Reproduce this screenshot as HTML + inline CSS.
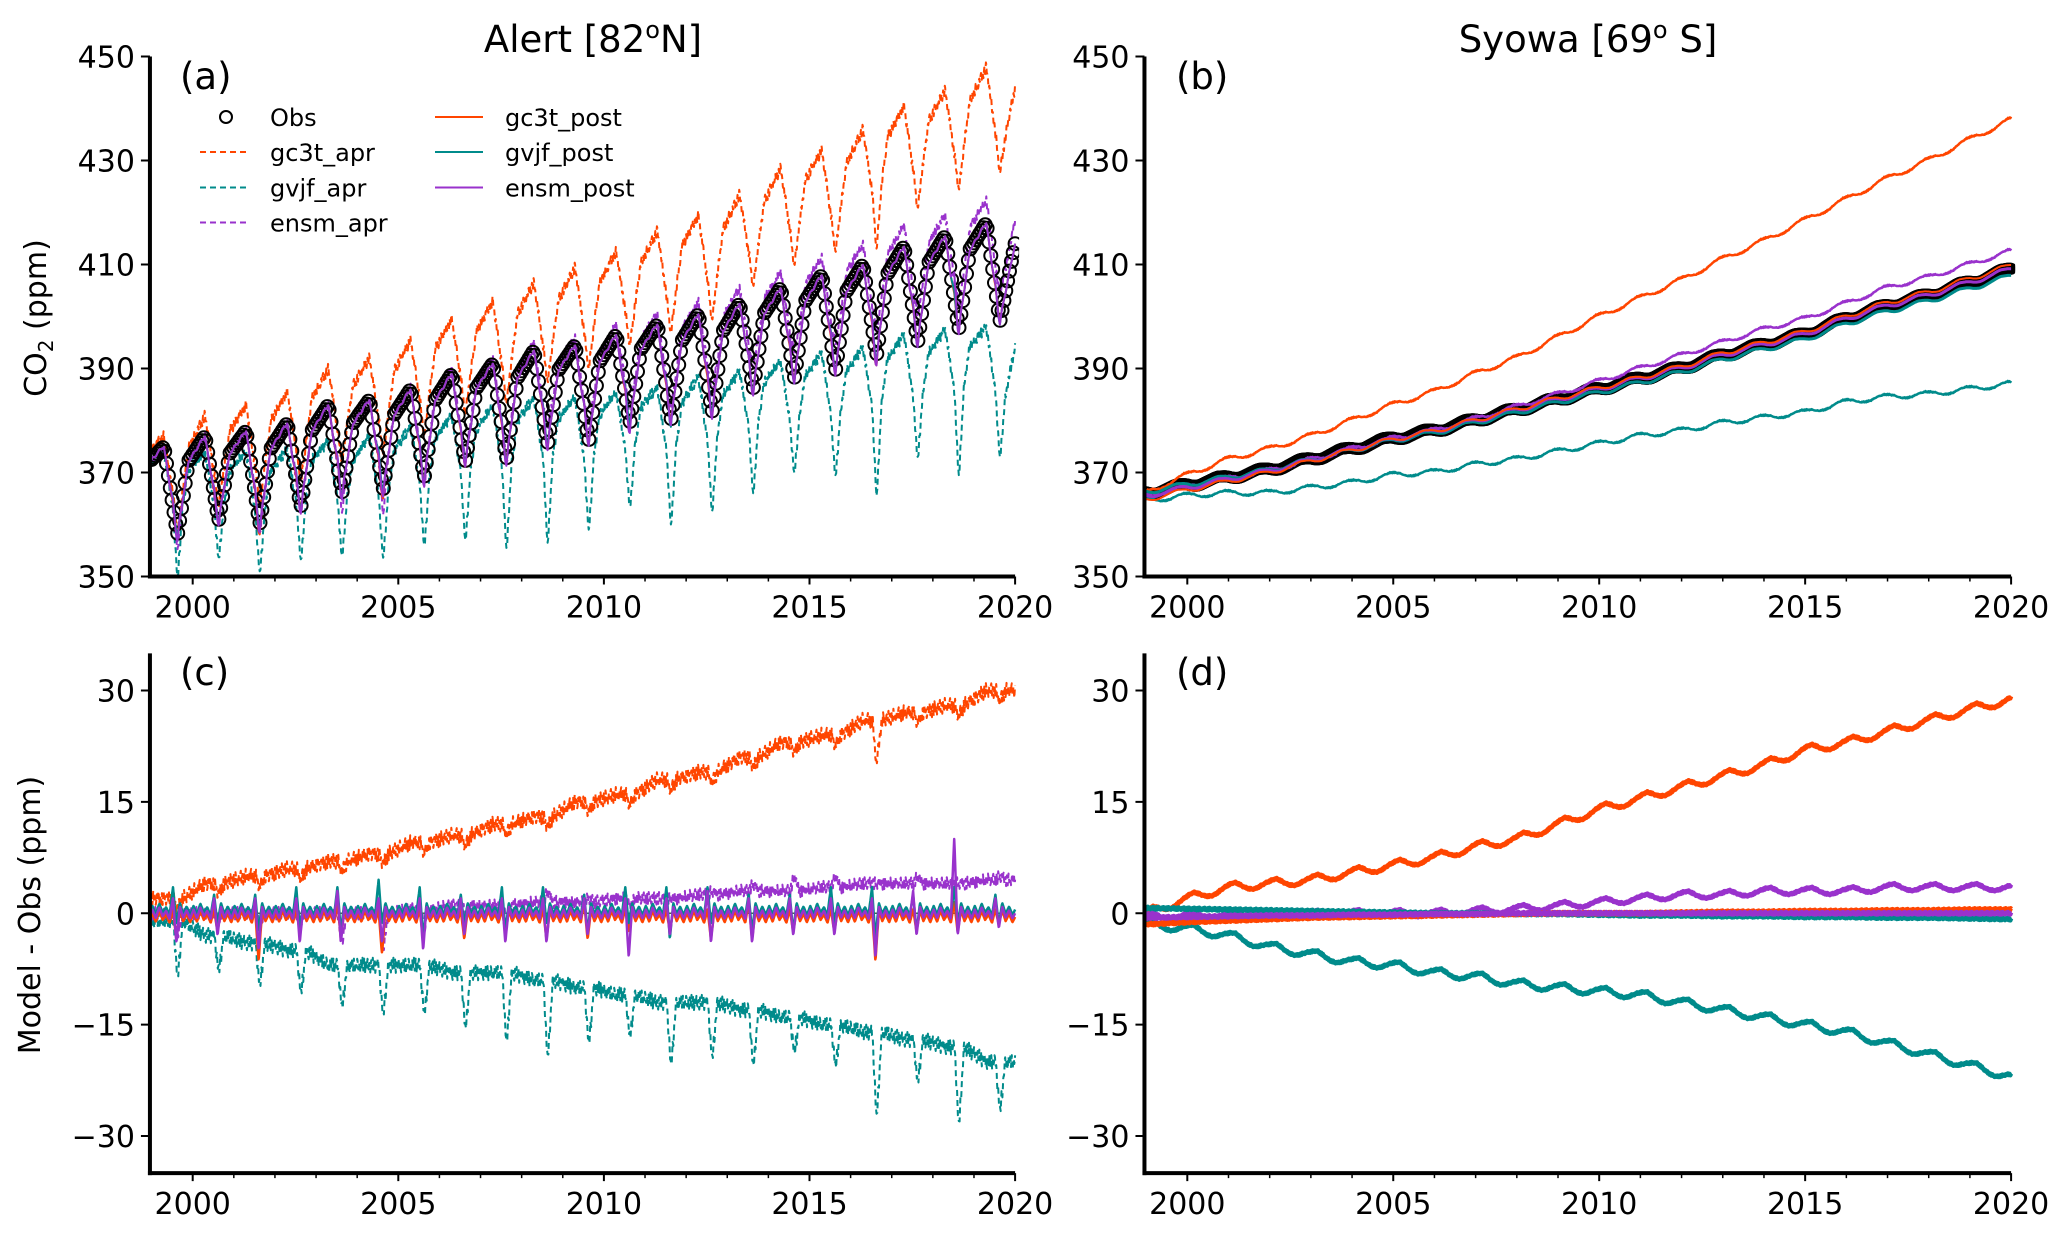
<!DOCTYPE html>
<html><head><meta charset="utf-8"><style>
html,body{margin:0;padding:0;background:#fff;}
svg{display:block;font-family:"DejaVu Sans","Liberation Sans",sans-serif;}
</style></head><body>
<svg id="fig" width="2067" height="1233" viewBox="0 0 2067 1233" xmlns="http://www.w3.org/2000/svg">
<text x="593" y="52" font-size="37" text-anchor="middle">Alert [82<tspan font-size="24" dy="-14">o</tspan><tspan dy="14">N]</tspan></text>
<text x="1588" y="52" font-size="37" text-anchor="middle">Syowa [69<tspan font-size="24" dy="-14">o</tspan><tspan dy="14"> S]</tspan></text>
<text transform="translate(46,318) rotate(-90)" font-size="30" text-anchor="middle">CO<tspan font-size="20" dy="7">2</tspan><tspan dy="-7"> (ppm)</tspan></text>
<text transform="translate(40,915) rotate(-90)" font-size="30" text-anchor="middle">Model - Obs (ppm)</text>
<g id="layer"></g>
</svg>
<script>
// ---------- data ----------
const years = [1999,2000,2001,2002,2003,2004,2005,2006,2007,2008,2009,2010,2011,2012,2013,2014,2015,2016,2017,2018,2019];
const alertObsPeak   = [375,377,378,379.5,383,384,386,389,391,393.5,394.5,396.5,398.5,400.5,402.5,405.5,408,410,413.5,415.5,418];
const alertObsTrough = [358,360.7,360,363.3,366,366.6,369,372,372.5,375.5,376,379.5,380,381.5,386,388,389.5,392.5,395,397.5,399];
const alertObsStart = 372.5;
const alertObsEnd = 414;
const gc3tAprBase = [2,4,5,6,7,8,9.5,10.5,12,13,15,16,18,19,21,23,24,26,27,28,30];
const gc3tAprDip  = [0.5,2.5,3.5,4.5,5.5,6.5,8,9,10.5,11.5,13.5,14.5,16.5,17.5,19.5,21.5,22.5,20,25.5,26.5,28.5];
const gvjfAprBase = [-1,-3,-4,-5,-7,-7,-7,-8,-8,-9,-10,-11,-12,-12,-13,-14,-15,-16,-17,-18,-20];
const gvjfAprDip  = [-9,-8,-10,-11,-13,-14,-14,-16,-18,-20,-18,-17,-21,-20,-21,-19,-21,-28,-23,-29,-27];
const ensmAprBase = [0,0,0,0,0,0,0.5,1,1,1.5,1.5,2,2,2.5,3,3,3.5,4,4,4,4.5];
const ensmAprDip  = [-3,-1,-2,-1,-4,-5,-2,0,-1,3,2,1,2,3,4,5,5,4,5,4,5];
const gc3tPostDip  = [-3,-2,-6,-2,-3,-5,-3,-3,-2,-3,-3,-2,-2,-3,-3,-2,-2,-6,-2,-2,-1];
const gc3tPostBump = [1,1,1,1,2,1,1,1,1,1,2,1,1,1,2,1,1,1,1,2,1];
const gvjfPostDip  = [-2,-2,-3,-3,-3,-2,-4,-2,-3,-2,-3,-2,-4,-2,-3,-3,-2,-4,-3,-2,-2];
const gvjfPostBump = [3,2,2,3,3,4,3,2,3,3,2,3,3,3,2,2,3,3,2,3,2];
const ensmPostDip  = [-4,-3,-5,-4,-4,-4,-5,-3,-4,-4,-3,-6,-3,-4,-4,-3,-3,-6,-3,-3,-2];
const ensmPostBump = [2,2,2,2,3,2,2,2,2,2,2,2,2,3,2,2,2,2,3,10,2];
const postWiggle = [0.6,-0.8,1.0,-0.5,0.4,-1.0,0.8,-0.6,1.1,-0.7,0.5,-0.9];

const syYears = [1999,2000,2001,2002,2003,2004,2005,2006,2007,2008,2009,2010,2011,2012,2013,2014,2015,2016,2017,2018,2019,2020];
const syObs = [366,367.5,369,370.5,372.5,374.5,376.5,378,380,382,384,386,388,390,392.5,394.5,396.5,399.5,402,404,406.5,409];
const syObsSeason = [0.2,-0.1,-0.3,-0.4,-0.3,-0.1,0.1,0.3,0.5,0.6,0.5,0.4];
const syGc3tAprDiff = [0,2,3.5,4,4.5,5.5,6.5,7.5,9,10,12,14,15.5,17,18.5,20,22,23,24.5,26,27.5,28.8];
const syGvjfAprDiff = [-1.5,-2,-3,-4.5,-5.5,-6.5,-7,-8,-8.5,-9.5,-10,-10.5,-11,-12,-13,-14,-15,-16,-17.5,-19,-20.5,-22];
const syEnsmAprDiff = [-0.5,-0.3,-0.2,-0.2,-0.1,0,0,0,0.3,0.6,1,1.5,2,2.5,2.5,3,3,3,3.5,3.5,3.5,3.5];
const syGc3tPostDiff = [-1.5,-1.2,-1,-0.8,-0.6,-0.5,-0.4,-0.3,-0.2,-0.1,0,0,0,0.1,0.2,0.2,0.3,0.3,0.4,0.4,0.5,0.5];
const syGvjfPostDiff = [0.7,0.6,0.5,0.4,0.3,0.2,0.1,0,0,-0.1,-0.1,-0.2,-0.3,-0.3,-0.4,-0.4,-0.5,-0.5,-0.6,-0.6,-0.7,-0.8];
const syEnsmPostDiff = [-0.6,-0.5,-0.4,-0.3,-0.3,-0.2,-0.2,-0.1,-0.1,0,0,0,0,0,0,0,0,0,0,0,0,0];
const diffSeason = [0.6,0.9,1.0,0.6,0.0,-0.5,-0.8,-1.0,-0.9,-0.5,-0.1,0.3];
const seasonAmp = {gc3t:0.55, gvjf:0.55, ensm:0.45};

const yTicksTop = [350,370,390,410,430,450];
const yTicksBot = [30,15,0,-15,-30];
const xTicksMajor = [2000,2005,2010,2015,2020];

// ---------- layout ----------
const NS = "http://www.w3.org/2000/svg";
const layer = document.getElementById('layer');
const C = {gc3t:'#ff4500', gvjf:'#008b8b', ensm:'#9932cc'};
function mk(tag, attrs, parent){const e=document.createElementNS(NS,tag);for(const k in attrs)e.setAttribute(k,attrs[k]);(parent||layer).appendChild(e);return e;}

function makeAxes(name, x2000, pxYr, y0px, v0, y1px, v1, vmin, vmax, yTicks, label, lx, ly){
  const xS = t => x2000 + (t-2000)*pxYr;
  const yS = v => y0px + (v-v0)*(y1px-y0px)/(v1-v0);
  const g = mk('g',{});
  
  
  const xl = xS(1998.96), xr = xS(2020), yt = yS(vmax), yb = yS(vmin);
  const clipId = 'clip-'+name;
  const cp = mk('clipPath',{id:clipId},g);
  mk('rect',{x:xl,y:yt-2,width:xr-xl+4,height:yb-yt+2},cp);
  const plot = mk('g',{'clip-path':'url(#'+clipId+')'},g);
  
  
  const axes = mk('g',{},g);
  const ls = mk('line',{x1:xl,y1:yt,x2:xl,y2:yb+2,stroke:'#000','stroke-width':4},axes);
  
  
  const bs = mk('line',{x1:xl-2,y1:yb,x2:xr,y2:yb,stroke:'#000','stroke-width':4},axes);
  
  
  for(let yr=2000; yr<=2020; yr++){
    const maj = xTicksMajor.includes(yr);
    mk('line',{x1:xS(yr),y1:yb,x2:xS(yr),y2:yb+(maj?8:5),stroke:'#000','stroke-width':maj?2:1.5},axes);
  }
  xTicksMajor.forEach(yr=>{
    const t = mk('text',{x:xS(yr),y:yb+41,'font-size':30,'text-anchor':'middle'},axes);
    t.textContent = yr;
    
    
  });
  yTicks.forEach(v=>{
    mk('line',{x1:xl-9,y1:yS(v),x2:xl,y2:yS(v),stroke:'#000','stroke-width':2},axes);
    const t = mk('text',{x:xl-15,y:yS(v)+11,'font-size':30,'text-anchor':'end'},axes);
    t.textContent = v<0 ? '\u2212'+Math.abs(v) : String(v);
    
    
  });
  const pl = mk('text',{x:lx,y:ly,'font-size':37},g);
  pl.textContent = label;
  
  
  return {xS,yS,plot,xl,xr};
}

function interp(keys, t){
  if(t<=keys[0][0]) return keys[0][1];
  for(let i=1;i<keys.length;i++){
    if(t<=keys[i][0]){const a=keys[i-1],b=keys[i];return a[1]+(b[1]-a[1])*(t-a[0])/(b[0]-a[0]);}
  }
  return keys[keys.length-1][1];
}
function pathFrom(ax, fn, step){
  let d='';
  for(let t=1999.0; t<=2020.0001; t+=step){
    d += (d?'L':'M') + ax.xS(t).toFixed(1)+','+ax.yS(fn(t)).toFixed(1);
  }
  return d;
}
function drawLine(ax, fn, color, dashed, width, name, step){
  const p = mk('path',{d:pathFrom(ax,fn,step||0.01),fill:'none',stroke:color,'stroke-width':width,'stroke-linejoin':'round'},ax.plot);
  if(dashed) p.setAttribute('stroke-dasharray','6 4');
  
  
}
function season(arr, t){
  const m = ((t-Math.floor(t))*12);
  const i = Math.floor(m)%12, f=m-Math.floor(m);
  return arr[i]+(arr[(i+1)%12]-arr[i])*f;
}
const wig = t => season(postWiggle, t*4);

// ---------- Alert keypoints ----------
const obsKeys = [[1999.0, alertObsStart]];
years.forEach((yr,i)=>{
  const nextPeak = i+1<years.length ? alertObsPeak[i+1] : alertObsEnd;
  obsKeys.push([yr+0.3, alertObsPeak[i]]);
  obsKeys.push([yr+0.63, alertObsTrough[i]]);
  obsKeys.push([yr+0.9, alertObsTrough[i] + 0.75*(nextPeak-alertObsTrough[i])]);
});
obsKeys.push([2020.0, alertObsEnd]);
const obsA = t => interp(obsKeys, t);

function aprKeys(base, dip){
  const k=[[1999.0, base[0]]];
  years.forEach((yr,i)=>{
    k.push([yr+0.3, base[i]]); k.push([yr+0.53, base[i]]);
    k.push([yr+0.63, dip[i]]); k.push([yr+0.76, base[i]]);
  });
  k.push([2020.0, base[base.length-1]]);
  return k;
}
function postKeys(dip, bump){
  const k=[[1999.0,0]];
  years.forEach((yr,i)=>{
    for(let m=0;m<12;m++){
      const t = yr + m/12 + 0.02;
      let v = postWiggle[m]*0.8;
      if(m===6) v = bump[i];
      if(m===7) v = dip[i];
      k.push([t, v]);
    }
  });
  k.push([2020.0,0]);
  return k;
}
const kGc3tApr = aprKeys(gc3tAprBase, gc3tAprDip);
const kGvjfApr = aprKeys(gvjfAprBase, gvjfAprDip);
const kEnsmApr = aprKeys(ensmAprBase, ensmAprDip);
const kGc3tPost = postKeys(gc3tPostDip, gc3tPostBump);
const kGvjfPost = postKeys(gvjfPostDip, gvjfPostBump);
const kEnsmPost = postKeys(ensmPostDip, ensmPostBump);
const dGc3tApr = t => interp(kGc3tApr,t) + 1.2*wig(t);
const dGvjfApr = t => interp(kGvjfApr,t) - 1.2*wig(t+0.1);
const dEnsmApr = t => interp(kEnsmApr,t) + 1.0*wig(t+0.2);

// ---------- Syowa ----------
function syInterp(arr, t){
  const i = Math.min(Math.max(Math.floor(t-1999),0), arr.length-2);
  const f = t-1999-i;
  return arr[i]+(arr[i+1]-arr[i])*f;
}
const syObsF = t => syInterp(syObs,t) + season(syObsSeason,t);
const syDiff = (arr, amp) => t => syInterp(arr,t) + amp*season(diffSeason,t) + 0.15*wig(t);

// ---------- panels ----------
const A = makeAxes('panel-a', 192.7, 41.12, 56.5, 450, 576.5, 350, 350, 450, yTicksTop, '(a)', 180, 89);
const B = makeAxes('panel-b', 1187.3, 41.19, 56.5, 450, 576.5, 350, 350, 450, yTicksTop, '(b)', 1176, 89);
const Cp = makeAxes('panel-c', 192.7, 41.12, 690.5, 30, 1136, -30, -35, 35, yTicksBot, '(c)', 180, 685);
const D = makeAxes('panel-d', 1187.3, 41.19, 690.5, 30, 1136, -30, -35, 35, yTicksBot, '(d)', 1176, 685);

// panel a
drawLine(A, t=>obsA(t)+dGc3tApr(t), C.gc3t, true, 2, 'gc3t-apr-line-a');
drawLine(A, t=>obsA(t)+dGvjfApr(t), C.gvjf, true, 2, 'gvjf-apr-line-a');
drawLine(A, t=>obsA(t)+dEnsmApr(t), C.ensm, true, 2, 'ensm-apr-line-a');
const obsG = mk('g',{fill:'none',stroke:'#000','stroke-width':2},A.plot);


for(let t=1999.0; t<=2020.0; t+=1/22){
  mk('circle',{cx:A.xS(t).toFixed(1),cy:A.yS(obsA(t)).toFixed(1),r:6.5},obsG);
}
drawLine(A, t=>obsA(t)+0.5*interp(kGc3tPost,t), C.gc3t, false, 2, 'gc3t-post-line-a');
drawLine(A, t=>obsA(t)+0.5*interp(kGvjfPost,t), C.gvjf, false, 2, 'gvjf-post-line-a');
drawLine(A, t=>obsA(t)+0.5*interp(kEnsmPost,t), C.ensm, false, 2, 'ensm-post-line-a');

// panel c
mk('line',{x1:Cp.xl,y1:Cp.yS(0),x2:Cp.xr,y2:Cp.yS(0),stroke:'#555','stroke-width':1.5},Cp.plot);
drawLine(Cp, dGc3tApr, C.gc3t, true, 2, 'gc3t-apr-line-c');
drawLine(Cp, dGvjfApr, C.gvjf, true, 2, 'gvjf-apr-line-c');
drawLine(Cp, dEnsmApr, C.ensm, true, 2, 'ensm-apr-line-c');
drawLine(Cp, t=>interp(kGc3tPost,t)-0.5, C.gc3t, false, 2.5, 'gc3t-post-line-c');
drawLine(Cp, t=>interp(kGvjfPost,t)+0.5, C.gvjf, false, 2.5, 'gvjf-post-line-c');
drawLine(Cp, t=>interp(kEnsmPost,t), C.ensm, false, 2.5, 'ensm-post-line-c');

// panel b
const syG = mk('g',{fill:'none',stroke:'#000','stroke-width':2},B.plot);


for(let t=1999.0; t<=2020.0; t+=1/60){
  mk('circle',{cx:B.xS(t).toFixed(1),cy:B.yS(syObsF(t)).toFixed(1),r:5},syG);
}
drawLine(B, t=>syObsF(t)+syDiff(syGc3tAprDiff,seasonAmp.gc3t)(t), C.gc3t, false, 2.5, 'gc3t-apr-line-b', 0.02);
drawLine(B, t=>syObsF(t)+syDiff(syGvjfAprDiff,seasonAmp.gvjf)(t), C.gvjf, false, 2.5, 'gvjf-apr-line-b', 0.02);
drawLine(B, t=>syObsF(t)+syDiff(syEnsmAprDiff,seasonAmp.ensm)(t), C.ensm, false, 2.5, 'ensm-apr-line-b', 0.02);
drawLine(B, t=>syObsF(t)+syInterp(syGvjfPostDiff,t)-0.5, C.gvjf, false, 3, 'gvjf-post-line-b', 0.02);
drawLine(B, t=>syObsF(t)+syInterp(syEnsmPostDiff,t), C.ensm, false, 3, 'ensm-post-line-b', 0.02);
drawLine(B, t=>syObsF(t)+syInterp(syGc3tPostDiff,t)+0.2, C.gc3t, false, 2, 'gc3t-post-line-b', 0.02);

// panel d
drawLine(D, syDiff(syGc3tAprDiff,seasonAmp.gc3t), C.gc3t, false, 4.5, 'gc3t-apr-line-d', 0.01);
drawLine(D, syDiff(syGvjfAprDiff,seasonAmp.gvjf), C.gvjf, false, 4.5, 'gvjf-apr-line-d', 0.01);
drawLine(D, syDiff(syEnsmAprDiff,seasonAmp.ensm), C.ensm, false, 4.5, 'ensm-apr-line-d', 0.01);
drawLine(D, t=>syInterp(syGvjfPostDiff,t)+0.2*wig(t), C.gvjf, false, 4.5, 'gvjf-post-line-d', 0.01);
drawLine(D, t=>syInterp(syGc3tPostDiff,t)+0.2*wig(t+0.3), C.gc3t, false, 4.5, 'gc3t-post-line-d', 0.01);
drawLine(D, t=>syInterp(syEnsmPostDiff,t)+0.2*wig(t+0.5), C.ensm, false, 4.5, 'ensm-post-line-d', 0.01);

// ---------- legend ----------
const leg = mk('g',{'font-size':24});


const legendItems = [
  ['Obs',null,false,200,117],
  ['gc3t_apr',C.gc3t,true,200,152],
  ['gvjf_apr',C.gvjf,true,200,187.5],
  ['ensm_apr',C.ensm,true,200,222.5],
  ['gc3t_post',C.gc3t,false,435,117],
  ['gvjf_post',C.gvjf,false,435,152],
  ['ensm_post',C.ensm,false,435,187.5]
];
legendItems.forEach(it=>{
  const [lab,col,dash,x,y]=it;
  const e = mk('g',{},leg);
  
  
  if(col===null){
    mk('circle',{cx:x+26,cy:y,r:6,fill:'none',stroke:'#000','stroke-width':2},e);
  } else {
    const l = mk('line',{x1:x,y1:y,x2:x+48,y2:y,stroke:col,'stroke-width':2},e);
    if(dash) l.setAttribute('stroke-dasharray','6 4');
  }
  const t = mk('text',{x:x+70,y:y+9},e);
  t.textContent = lab;
});
</script>
</body></html>
